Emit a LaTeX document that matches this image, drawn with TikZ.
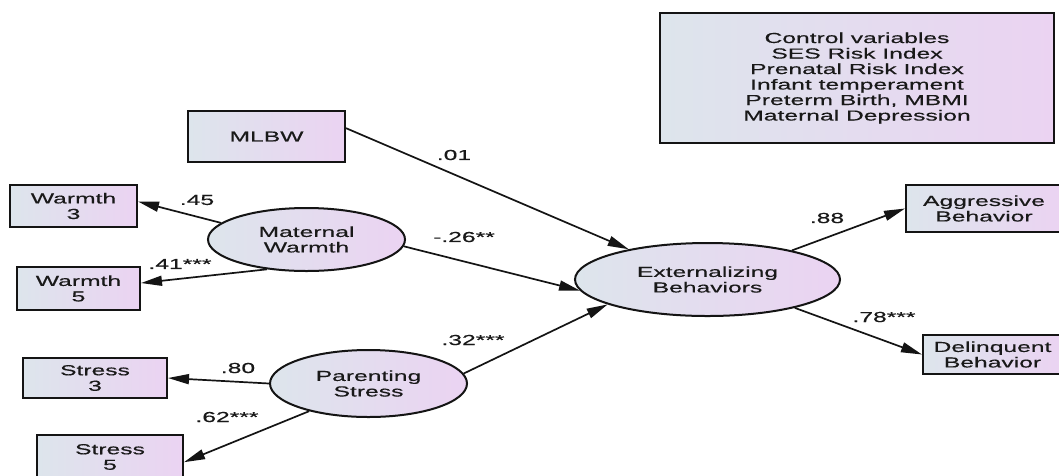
\documentclass[tikz,border=0pt]{standalone}
\usepackage{fontspec}
\usetikzlibrary{shapes.geometric,arrows.meta}
\newfontfamily\labfont[FakeStretch=1.7,FakeBold=0.4]{Liberation Sans}
\definecolor{shadeL}{RGB}{221,229,236}
\definecolor{shadeR}{RGB}{235,211,242}
\definecolor{edgecol}{RGB}{20,20,20}
\tikzset{
  every node/.style={font=\fontsize{14.5}{15.5}\labfont, text=black!90},
  obsbox/.style={draw=edgecol, line width=2pt, rectangle, inner sep=0pt,
    left color=shadeL, right color=shadeR, align=center},
  latent/.style={draw=edgecol, line width=2pt, ellipse, inner sep=0pt,
    left color=shadeL, right color=shadeR, align=center},
  path/.style={draw=edgecol, line width=1.7pt,
    -{Triangle[length=21pt,width=10pt]}},
  coef/.style={inner sep=0pt}
}
\begin{document}
\begin{tikzpicture}[x=1pt,y=-1pt]
\useasboundingbox (0,0) rectangle (1059,475);
\clip (0,0) rectangle (1059,475);
\fill[white] (0,0) rectangle (1059,475);

% control variables
\node[obsbox, minimum width=394pt, minimum height=130pt] (ctrl) at (857,78)
  {Control variables\\SES Risk Index\\Prenatal Risk Index\\Infant temperament\\Preterm Birth, MBMI\\Maternal Depression};

% observed boxes
\node[obsbox, minimum width=157pt, minimum height=51pt] (mlbw) at (266.5,136.5) {MLBW};
\node[obsbox, minimum width=127pt, minimum height=42pt] (w3) at (73.5,206) {Warmth\\3};
\node[obsbox, minimum width=123pt, minimum height=43pt] (w5) at (78.5,288.5) {Warmth\\5};
\node[obsbox, minimum width=144pt, minimum height=40pt] (s3) at (95,378) {Stress\\3};
\node[obsbox, minimum width=146pt, minimum height=44pt] (s5) at (110,457) {Stress\\5};
\node[obsbox, minimum width=156pt, minimum height=47pt] (agg) at (984,208.5) {Aggressive\\Behavior};
\node[obsbox, minimum width=139pt, minimum height=39pt] (del) at (992.5,354.5) {Delinquent\\Behavior};

% latent ellipses
\node[latent, minimum width=197pt, minimum height=63pt] (mw) at (306.5,239.5) {Maternal\\Warmth};
\node[latent, minimum width=197pt, minimum height=67pt] (ps) at (368.5,383.5) {Parenting\\Stress};
\node[latent, minimum width=265pt, minimum height=73pt] (ext) at (707.5,279.5) {Externalizing\\Behaviors};

% paths
\draw[path] (mlbw.6) -- (ext.159);
\draw[path] (mw.-4) -- (ext.185);
\draw[path] (ps.6) -- (ext.194);
\draw[path] (ext.19) -- (agg.west);
\draw[path] (ext.-18) -- (del.west);
\draw[path] (mw.169) -- (w3.4);
\draw[path] (mw.217) -- (w5.5);
\draw[path] (ps.180) -- (s3.east);
\draw[path] (ps.205) -- (s5.-4);

% coefficients
\node[coef] (c01) at (454,155) {.01};
\node[coef] (c26) at (464,237) {-.26**};
\node[coef] (c32) at (473,340) {.32***};
\node[coef] (c45) at (197,200) {.45};
\node[coef] (c41) at (180,264) {.41***};
\node[coef] (c80) at (238,368) {.80};
\node[coef] (c62) at (227,417) {.62***};
\node[coef] (c88) at (827,218) {.88};
\node[coef] (c78) at (884,317) {.78***};
\end{tikzpicture}
\end{document}
